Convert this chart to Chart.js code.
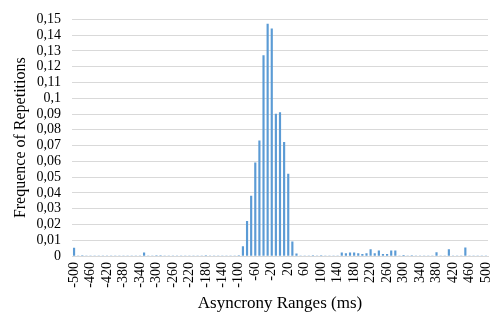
<!DOCTYPE html>
<html>
<head>
<meta charset="utf-8">
<script src="https://cdn.jsdelivr.net/npm/chart.js@4"></script>
<style>
html,body{margin:0;padding:0;background:#fff;}
#wrap{width:491px;height:318px;}
</style>
</head>
<body>
<div id="wrap"><canvas id="c" width="491" height="318"></canvas></div>
<script>
const categories = [
  -500,-490,-480,-470,-460,-450,-440,-430,-420,-410,
  -400,-390,-380,-370,-360,-350,-340,-330,-320,-310,
  -300,-290,-280,-270,-260,-250,-240,-230,-220,-210,
  -200,-190,-180,-170,-160,-150,-140,-130,-120,-110,
  -100,-90,-80,-70,-60,-50,-40,-30,-20,-10,
  0,10,20,30,40,50,60,70,80,90,
  100,110,120,130,140,150,160,170,180,190,
  200,210,220,230,240,250,260,270,280,290,
  300,310,320,330,340,350,360,370,380,390,
  400,410,420,430,440,450,460,470,480,490,
  500
];
const frequencies = [
  0.005,0,0.0003,0,0,0,0,0,0,0,
  0,0,0,0,0,0,0,0.002,0,0,
  0.0003,0.0003,0,0,0,0,0,0,0,0,
  0,0,0.0003,0,0,0,0,0,0,0,
  0.0003,0.006,0.022,0.038,0.059,0.073,0.127,0.147,0.144,0.090,
  0.091,0.072,0.052,0.009,0.0013,0,0,0,0.0003,0,
  0.0003,0,0,0,0,0.002,0.0015,0.002,0.002,0.0015,
  0.001,0.0015,0.004,0.0015,0.0033,0.001,0.001,0.0033,0.0033,0,
  0.0004,0,0.0003,0,0,0,0,0,0.0022,0,
  0,0.004,0,0,0,0.0052,0,0,0,0,
  0
];
const labelEvery = 4;
const yMax = 0.15;
const yStep = 0.01;

const serif = "'Liberation Serif', 'Times New Roman', serif";

new Chart(document.getElementById('c'), {
  type: 'bar',
  data: {
    labels: categories,
    datasets: [{
      data: frequencies,
      backgroundColor: '#5B9BD5',
      borderWidth: 0,
      barThickness: 1.5
    }]
  },
  options: {
    responsive: false,
    animation: false,
    devicePixelRatio: 1,
    layout: { padding: { top: 7, right: 3, left: 0, bottom: 0 } },
    plugins: { legend: { display: false }, tooltip: { enabled: false } },
    scales: {
      x: {
        grid: { display: false, drawTicks: false },
        border: { display: true, color: '#D9D9D9' },
        ticks: {
          autoSkip: false,
          maxRotation: 90,
          minRotation: 90,
          padding: 6,
          color: '#000',
          font: { family: serif, size: 14 },
          callback: function(v, i) { return i % labelEvery === 0 ? String(categories[i]) : ''; }
        },
        title: {
          display: true,
          text: 'Asyncrony Ranges (ms)',
          color: '#000',
          font: { family: serif, size: 17 },
          padding: { top: 0, bottom: 4 }
        },
        afterFit: function(s) { s.height = 62; s.paddingLeft = 0; s.paddingRight = 0; }
      },
      y: {
        min: 0,
        max: yMax,
        grid: { color: '#D9D9D9', drawTicks: false },
        border: { display: false },
        ticks: {
          autoSkip: false,
          stepSize: yStep,
          padding: 11,
          color: '#000',
          font: { family: serif, size: 14 },
          callback: function(v) { return String(Number(v.toFixed(2))).replace('.', ','); }
        },
        title: {
          display: true,
          text: 'Frequence of Repetitions',
          color: '#000',
          font: { family: serif, size: 16 },
          padding: { top: 11, bottom: 2 }
        },
        afterFit: function(s) { s.width = 72; }
      }
    }
  }
});
</script>
</body>
</html>
